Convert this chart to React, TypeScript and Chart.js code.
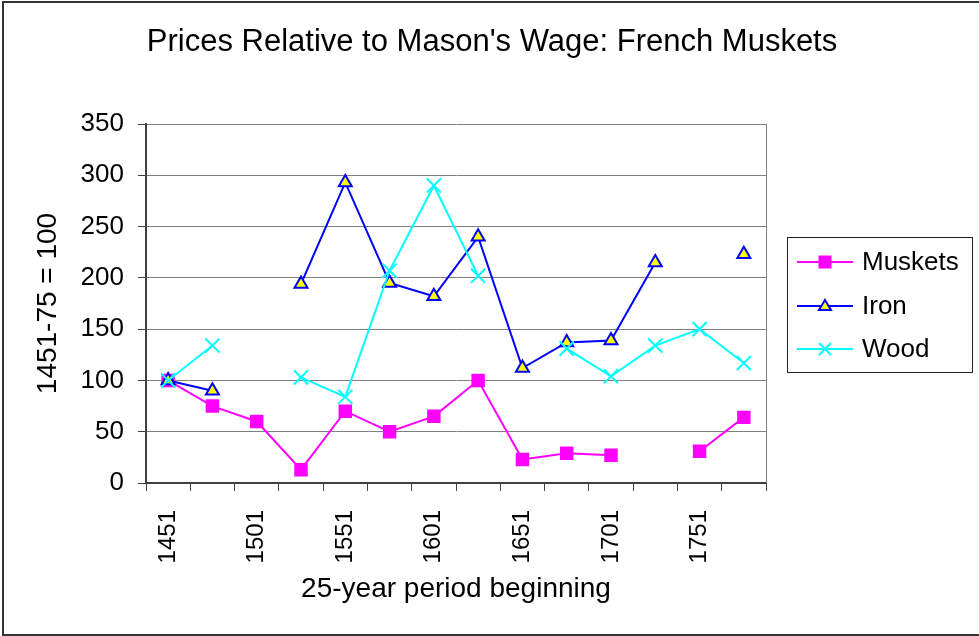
import React, { useEffect, useRef } from 'react';
import { Chart, registerables } from 'chart.js';

Chart.register(...registerables);

const categories = ['1451', '1476', '1501', '1526', '1551', '1576', '1601', '1626', '1651', '1676', '1701', '1726', '1751', '1776'];
const shownTickLabels = ['1451', '1501', '1551', '1601', '1651', '1701', '1751'];
const yTicks = [0, 50, 100, 150, 200, 250, 300, 350];

const muskets = [100, 75, 60, 13, 70, 50, 65, 100, 23, 29, 27, null, 31, 64];
const iron = [100, 90, null, 194, 293, 195, 182, 240, 112, 137, 139, 215, null, 223];
const wood = [100, 134, null, 103, 84, 207, 290, 202, null, 131, 104, 134, 150, 117];

const chartTitle = "Prices Relative to Mason's Wage: French Muskets";
const xTitle = '25-year period beginning';
const yTitle = '1451-75 = 100';
const seriesNames = ['Muskets', 'Iron', 'Wood'];

const FONT = '"Liberation Sans", Arial, Helvetica, sans-serif';

const decorPlugin = {
  id: 'decor',
  afterDraw(chart: any) {
    const ctx = chart.ctx;
    const area = chart.chartArea;
    ctx.save();
    // plot area right border
    ctx.strokeStyle = '#808080';
    ctx.lineWidth = 1;
    ctx.beginPath();
    ctx.moveTo(Math.round(area.right) + 0.5, area.top);
    ctx.lineTo(Math.round(area.right) + 0.5, area.bottom);
    ctx.stroke();

    // outer border
    ctx.strokeStyle = '#333333';
    ctx.lineWidth = 2;
    ctx.strokeRect(3, 2, 990, 633);

    // title
    ctx.fillStyle = '#000000';
    ctx.font = `31px ${FONT}`;
    ctx.textAlign = 'center';
    ctx.textBaseline = 'alphabetic';
    ctx.fillText(chartTitle, 492, 51);

    // legend
    ctx.strokeStyle = '#222222';
    ctx.lineWidth = 1;
    ctx.strokeRect(787.5, 237.5, 185, 135);
    const ys = [262, 306, 349];
    const colors = ['#FF00FF', '#0000FF', '#00FFFF'];
    ctx.font = `26px ${FONT}`;
    ctx.textAlign = 'left';
    ctx.textBaseline = 'middle';
    for (let i = 0; i < 3; i++) {
      const y = ys[i];
      ctx.strokeStyle = colors[i];
      ctx.lineWidth = 2;
      ctx.beginPath();
      ctx.moveTo(797, y);
      ctx.lineTo(853, y);
      ctx.stroke();
      const cx = 825;
      if (i === 0) {
        ctx.fillStyle = '#FF00FF';
        ctx.fillRect(cx - 6.5, y - 6.5, 13, 13);
      } else if (i === 1) {
        ctx.fillStyle = '#FFFF00';
        ctx.strokeStyle = '#0000FF';
        ctx.lineWidth = 2;
        ctx.beginPath();
        ctx.moveTo(cx, y - 6);
        ctx.lineTo(cx + 6, y + 4);
        ctx.lineTo(cx - 6, y + 4);
        ctx.closePath();
        ctx.fill();
        ctx.stroke();
      } else {
        ctx.strokeStyle = '#00FFFF';
        ctx.lineWidth = 2;
        ctx.beginPath();
        ctx.moveTo(cx - 6, y - 6);
        ctx.lineTo(cx + 6, y + 6);
        ctx.moveTo(cx + 6, y - 6);
        ctx.lineTo(cx - 6, y + 6);
        ctx.stroke();
      }
      ctx.fillStyle = '#000000';
      ctx.fillText(seriesNames[i], 862, y + 1);
    }
    ctx.restore();
  },
};

export default function App() {
  const canvasRef = useRef<HTMLCanvasElement | null>(null);

  useEffect(() => {
    const canvas = canvasRef.current;
    if (!canvas) return;
    const chart = new Chart(canvas, {
      type: 'line',
      data: {
        labels: categories,
        datasets: [
          {
            label: seriesNames[0],
            data: muskets,
            borderColor: '#FF00FF',
            backgroundColor: '#FF00FF',
            borderWidth: 2,
            pointStyle: 'rect',
            pointRadius: 9.5,
            pointBorderWidth: 0,
            pointBackgroundColor: '#FF00FF',
            pointBorderColor: '#FF00FF',
            spanGaps: false,
            order: 2,
          },
          {
            label: seriesNames[1],
            data: iron,
            borderColor: '#0000FF',
            backgroundColor: '#FFFF00',
            borderWidth: 2,
            pointStyle: 'triangle',
            pointRadius: 7.5,
            pointBorderWidth: 2,
            pointBackgroundColor: '#FFFF00',
            pointBorderColor: '#0000FF',
            spanGaps: false,
            order: 1,
          },
          {
            label: seriesNames[2],
            data: wood,
            borderColor: '#00FFFF',
            backgroundColor: '#00FFFF',
            borderWidth: 2,
            pointStyle: 'crossRot',
            pointRadius: 10,
            pointBorderWidth: 2,
            pointBackgroundColor: '#00FFFF',
            pointBorderColor: '#00FFFF',
            spanGaps: false,
            order: 0,
          },
        ],
      },
      options: {
        responsive: true,
        maintainAspectRatio: false,
        animation: false,
        events: [],
        layout: { padding: { left: 4, top: 124, right: 213, bottom: 4 } },
        plugins: {
          legend: { display: false },
          title: { display: false },
          tooltip: { enabled: false },
        },
        scales: {
          x: {
            type: 'category',
            offset: true,
            grid: {
              offset: true,
              drawOnChartArea: false,
              drawTicks: true,
              tickLength: 8,
              color: '#404040',
              lineWidth: 1,
            },
            border: { display: true, color: '#404040', width: 2 },
            ticks: {
              autoSkip: false,
              minRotation: 90,
              maxRotation: 90,
              padding: 19,
              color: '#000000',
              font: { family: FONT, size: 24 },
              callback: (_v: any, i: number) => (shownTickLabels.includes(categories[i]) ? categories[i] : ''),
            },
            title: {
              display: true,
              text: xTitle,
              color: '#000000',
              font: { family: FONT, size: 28 },
              padding: { top: 0, bottom: 26 },
            },
            afterFit: (s: any) => {
              s.height = 149;
            },
          },
          y: {
            min: 0,
            max: 350,
            afterBuildTicks: (s: any) => {
              s.ticks = yTicks.map((v) => ({ value: v }));
            },
            grid: {
              color: '#808080',
              tickColor: '#404040',
              lineWidth: 1,
              tickLength: 8,
              drawTicks: true,
            },
            border: { display: true, color: '#404040', width: 2 },
            ticks: {
              padding: 14,
              color: '#000000',
              font: { family: FONT, size: 26 },
            },
            title: {
              display: true,
              text: yTitle,
              color: '#000000',
              font: { family: FONT, size: 28 },
              padding: { top: 27, bottom: 0 },
            },
            afterFit: (s: any) => {
              s.width = 142;
            },
          },
        },
      },
      plugins: [decorPlugin],
    });
    return () => chart.destroy();
  }, []);

  return (
    <div style={{ position: 'fixed', left: 0, top: 0, width: 979, height: 636, background: '#ffffff' }}>
      <canvas ref={canvasRef} />
    </div>
  );
}
